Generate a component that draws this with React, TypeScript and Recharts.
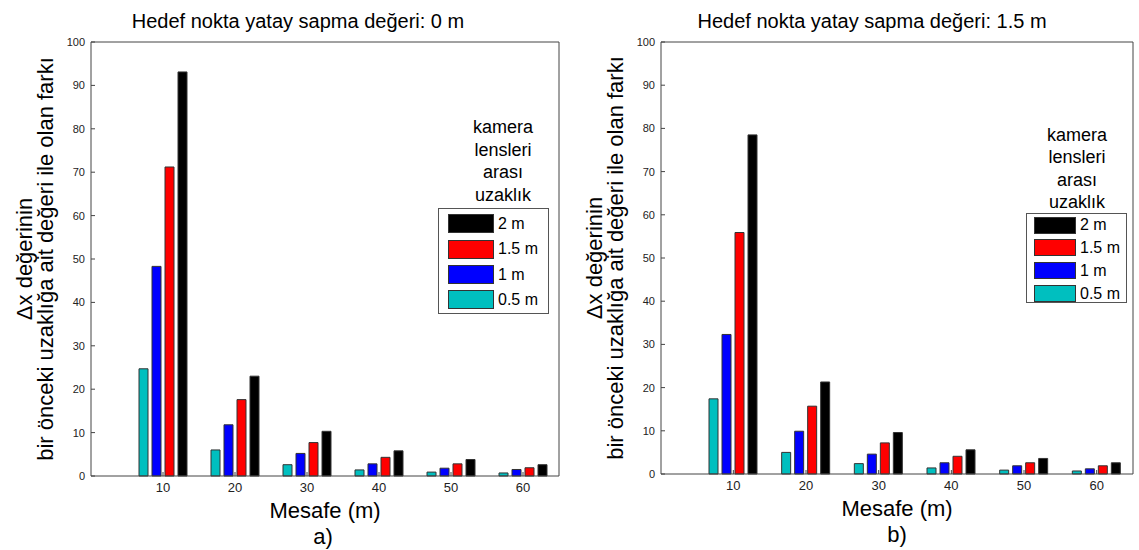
import { BarChart, Bar, XAxis, YAxis, Legend, Label } from "recharts";

const FONT = "Arial, 'Liberation Sans', sans-serif";

const distances = [10, 20, 30, 40, 50, 60];
const yTicks = [0, 10, 20, 30, 40, 50, 60, 70, 80, 90, 100];
const seriesNames = ["0.5 m", "1 m", "1.5 m", "2 m"];
const seriesColors = ["#00bfbf", "#0000ff", "#ff0000", "#000000"];
const legendTitle = ["kamera", "lensleri", "arası", "uzaklık"];

// a) hedef nokta yatay sapma 0 m
const a05 = [24.7, 6.0, 2.6, 1.4, 0.9, 0.7];
const a10 = [48.3, 11.8, 5.2, 2.8, 1.8, 1.5];
const a15 = [71.2, 17.6, 7.7, 4.3, 2.8, 1.9];
const a20 = [93.1, 23.0, 10.3, 5.8, 3.8, 2.6];

// b) hedef nokta yatay sapma 1.5 m
const b05 = [17.4, 5.0, 2.4, 1.4, 0.9, 0.7];
const b10 = [32.3, 9.9, 4.6, 2.6, 1.9, 1.2];
const b15 = [55.9, 15.7, 7.2, 4.1, 2.6, 1.9];
const b20 = [78.5, 21.3, 9.6, 5.6, 3.6, 2.6];

const buildRows = (series: number[][]) =>
  distances.map((d, i) => {
    const row: any = { distance: d };
    series.forEach((s, k) => (row[seriesNames[k]] = s[i]));
    return row;
  });

const rowsA = buildRows([a05, a10, a15, a20]);
const rowsB = buildRows([b05, b10, b15, b20]);

function LegendBox({ payload, lg }: any) {
  const order = [...seriesNames].reverse();
  const items = order.filter((n) => !payload || payload.some((p: any) => p.value === n));
  const boxTop = lg.titleLh * 4 + lg.gap;
  return (
    <div style={{ position: "relative", width: lg.boxW, height: boxTop + lg.boxH, fontFamily: FONT, color: "#000" }}>
      <div
        style={{
          position: "absolute",
          left: lg.titleCx - 60,
          width: 120,
          top: 0,
          textAlign: "center",
          fontSize: 18,
          lineHeight: `${lg.titleLh}px`,
        }}
      >
        {legendTitle.map((t) => (
          <div key={t}>{t}</div>
        ))}
      </div>
      <div
        style={{
          position: "absolute",
          left: 0,
          top: boxTop,
          width: lg.boxW,
          height: lg.boxH,
          border: "1px solid #555",
          boxSizing: "border-box",
          background: "#fff",
        }}
      >
        {items.map((name, i) => (
          <div
            key={name}
            style={{
              position: "absolute",
              left: lg.swX,
              top: lg.row0 + i * lg.rowStep - lg.swH / 2,
              height: lg.swH,
              display: "flex",
              alignItems: "center",
              whiteSpace: "nowrap",
            }}
          >
            <span
              style={{
                display: "inline-block",
                width: lg.swW,
                height: lg.swH,
                background: seriesColors[seriesNames.indexOf(name)],
                border: "1px solid #333",
                boxSizing: "border-box",
              }}
            />
            <span style={{ marginLeft: 4, fontSize: 16 }}>{name}</span>
          </div>
        ))}
      </div>
    </div>
  );
}

const renderYLabel = (props: any) => {
  const { viewBox } = props;
  const plotLeft = viewBox.x + viewBox.width;
  const cy = viewBox.y + viewBox.height / 2;
  const x1 = plotLeft - 67;
  const x2 = plotLeft - 46;
  return (
    <g fontFamily={FONT} fontSize={22} fill="#000">
      <text x={x1} y={cy} textAnchor="middle" dominantBaseline="central" transform={`rotate(-90, ${x1}, ${cy})`}>
        Δx değerinin
      </text>
      <text x={x2} y={cy} textAnchor="middle" dominantBaseline="central" transform={`rotate(-90, ${x2}, ${cy})`}>
        bir önceki uzaklığa ait değeri ile olan farkı
      </text>
    </g>
  );
};

function Panel({ rows, title, caption, geo }: any) {
  const axisStroke = "#444";
  const tickStyle = { fill: "#222", fontFamily: FONT };
  return (
    <div style={{ position: "absolute", left: geo.left, top: 0, width: geo.width, height: 550, fontFamily: FONT }}>
      <div
        style={{
          position: "absolute",
          left: geo.titleX - 250,
          width: 500,
          top: 9,
          textAlign: "center",
          fontSize: 20,
          lineHeight: "24px",
        }}
      >
        {title}
      </div>
      <BarChart
        width={geo.width}
        height={550}
        data={rows}
        margin={{ top: 40, left: 51, right: geo.marginRight, bottom: geo.marginBottom }}
        barSize={9}
        barGap={4}
      >
        <XAxis
          xAxisId="b"
          dataKey="distance"
          height={20}
          padding={{ left: 36, right: 0 }}
          stroke={axisStroke}
          tickSize={-4}
          tickMargin={11}
          tick={{ ...tickStyle, fontSize: 13 }}
        >
          <Label value="Mesafe (m)" position="bottom" offset={6} style={{ fontSize: 22, fill: "#000", fontFamily: FONT }} />
        </XAxis>
        <XAxis
          xAxisId="t"
          dataKey="distance"
          orientation="top"
          height={2}
          padding={{ left: 36, right: 0 }}
          stroke={axisStroke}
          tickSize={-4}
          tick={false}
        />
        <YAxis
          yAxisId="l"
          type="number"
          domain={[0, 100]}
          ticks={yTicks}
          width={40}
          stroke={axisStroke}
          tickSize={-4}
          tickMargin={10}
          tick={{ ...tickStyle, fontSize: 11 }}
        >
          <Label content={renderYLabel} />
        </YAxis>
        <YAxis
          yAxisId="r"
          orientation="right"
          type="number"
          domain={[0, 100]}
          ticks={yTicks}
          width={2}
          stroke={axisStroke}
          tickSize={-4}
          tick={false}
        />
        <Legend
          layout="vertical"
          align="center"
          verticalAlign="middle"
          wrapperStyle={{ left: geo.lg.x, top: geo.lg.titleTop, width: geo.lg.boxW }}
          content={(p: any) => <LegendBox payload={p.payload} lg={geo.lg} />}
        />
        {seriesNames.map((name, k) => (
          <Bar
            key={name}
            dataKey={name}
            name={name}
            xAxisId="b"
            yAxisId="l"
            fill={seriesColors[k]}
            stroke="#333"
            strokeWidth={1}
            isAnimationActive={false}
          />
        ))}
      </BarChart>
      <div
        style={{
          position: "absolute",
          left: geo.captionX - 50,
          width: 100,
          top: geo.captionY - 13,
          textAlign: "center",
          fontSize: 22,
          lineHeight: "26px",
        }}
      >
        {caption}
      </div>
    </div>
  );
}

const geoA = {
  left: 0,
  width: 570,
  marginRight: 9,
  marginBottom: 54,
  titleX: 298,
  captionX: 323,
  captionY: 537,
  lg: { x: 438, titleTop: 116, titleLh: 22.7, gap: 1, titleCx: 65, boxW: 111, boxH: 106, swX: 9, swW: 46, swH: 19, row0: 15, rowStep: 25.4 },
};

const geoB = {
  left: 570,
  width: 569,
  marginRight: 4,
  marginBottom: 56,
  titleX: 302,
  captionX: 327,
  captionY: 535,
  lg: { x: 456, titleTop: 124, titleLh: 22.3, gap: 0, titleCx: 51, boxW: 101, boxH: 90, swX: 7, swW: 42, swH: 17, row0: 11, rowStep: 22.8 },
};

export default function App() {
  return (
    <div style={{ position: "absolute", left: 0, top: 0, width: 1139, height: 550, background: "#fff" }}>
      <Panel rows={rowsA} title="Hedef nokta yatay sapma değeri: 0 m" caption="a)" geo={geoA} />
      <Panel rows={rowsB} title="Hedef nokta yatay sapma değeri: 1.5 m" caption="b)" geo={geoB} />
    </div>
  );
}
